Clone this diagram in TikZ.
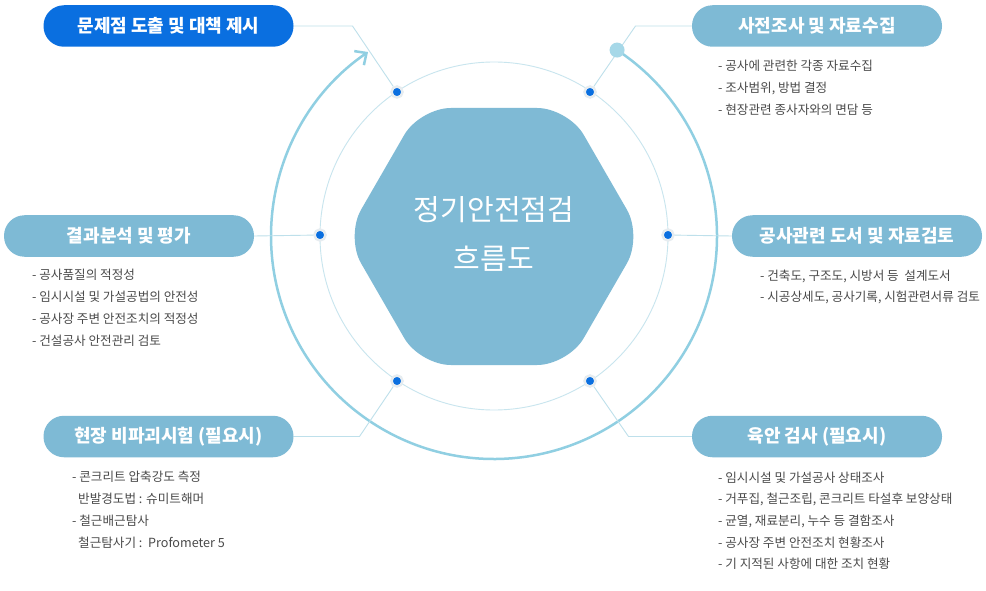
\documentclass[tikz,border=0pt]{standalone}
\usepackage{fontspec}
\setmainfont{Noto Sans CJK KR}
\usetikzlibrary{arrows.meta,calc}
\definecolor{boxc}{HTML}{7EBAD5}
\definecolor{bluebox}{HTML}{0A6FE0}
\definecolor{hexc}{HTML}{7FBAD5}
\definecolor{txt}{HTML}{4A4A4A}
\definecolor{innerc}{HTML}{C8E5EE}
\definecolor{connc}{HTML}{BEE0EB}
\definecolor{arcc}{HTML}{90CFE2}
\definecolor{lightdot}{HTML}{A6D8E8}
\definecolor{dotblue}{HTML}{0A6FE0}
\definecolor{ringc}{HTML}{E6ECF0}
\begin{document}
\begin{tikzpicture}[x=1pt,y=-1pt,
  titlebox/.style={rounded corners=20.5pt, fill=boxc, minimum width=250pt, minimum height=41.5pt, text=white, inner sep=0pt, font=\bfseries\fontsize{18}{18}\selectfont},
  dotnode/.style={circle, fill=dotblue, draw=ringc, line width=2.5pt, minimum size=11pt, inner sep=0pt},
  conn/.style={draw=connc, line width=0.9pt},
  bul/.style={anchor=west, inner sep=0pt, text=txt, font=\fontsize{12.6}{14}\selectfont}
]
\useasboundingbox (0,0) rectangle (986,591);
\fill[white] (0,0) rectangle (986,591);
\coordinate (c) at (494,236);
% inner circle
\draw[innerc, line width=0.9pt] (c) circle[radius=174];
% outer arc with arrow
\draw[arcc, line width=2.5pt, -{Straight Barb[length=9pt,width=17pt]}] ($(c)+(-56.5:223)$) arc[start angle=-56.5, end angle=235.6, radius=223];
% hexagon
\fill[hexc, rounded corners=31pt] (494,108) -- (568.2,108) -- (642.4,236.5) -- (568.2,365) -- (419.8,365) -- (345.6,236.5) -- (419.8,108) -- cycle;
\node[text=white, align=center, font=\fontsize{29}{49}\selectfont] (hub) at (494,234) {정기안전점검\\흐름도};
% title boxes
\node[titlebox, fill=bluebox] (tl) at (168.5,26) {문제점 도출 및 대책 제시};
\node[titlebox] (tr) at (817,26) {사전조사 및 자료수집};
\node[titlebox] (lf) at (129,236) {결과분석 및 평가};
\node[titlebox] (rt) at (857,236) {공사관련 도서 및 자료검토};
\node[titlebox] (bl) at (168.5,436.5) {현장 비파괴시험 (필요시)};
\node[titlebox] (br) at (817,436.5) {육안 검사 (필요시)};
% dots
\node[dotnode] (d1) at (397,92) {};
\node[dotnode] (d2) at (590,92) {};
\node[dotnode] (d3) at (320,235) {};
\node[dotnode] (d4) at (668,235) {};
\node[dotnode] (d5) at (397,381) {};
\node[dotnode] (d6) at (590,381) {};
% corner coordinates
\coordinate (k1) at (352.5,26);
\coordinate (k2) at (635.5,26);
\coordinate (k5) at (359.5,436.5);
\coordinate (k6) at (628.5,436.5);
% connectors
\draw[conn] (tl.east) -- (k1) -- (d1);
\draw[conn] (tr.west) -- (k2) -- (d2);
\draw[conn] (lf.east) -- (d3);
\draw[conn] (rt.west) -- (d4);
\draw[conn] (bl.east) -- (k5) -- (d5);
\draw[conn] (br.west) -- (k6) -- (d6);
\node[circle, fill=lightdot, minimum size=15pt, inner sep=0pt] (ld) at ($(c)+(-56.5:223)$) {};
% bullets
\node[bul] (tr1) at (718,66) {- 공사에 관련한 각종 자료수집};
\node[bul] (tr2) at (718,88) {- 조사범위, 방법 결정};
\node[bul] (tr3) at (718,110) {- 현장관련 종사자와의 면담 등};
\node[bul] (l1) at (32,275) {- 공사품질의 적정성};
\node[bul] (l2) at (32,297) {- 임시시설 및 가설공법의 안전성};
\node[bul] (l3) at (32,319) {- 공사장 주변 안전조치의 적정성};
\node[bul] (l4) at (32,341) {- 건설공사 안전관리 검토};
\node[bul] (r1) at (760,276) {- 건축도, 구조도, 시방서 등\ \ 설계도서};
\node[bul] (r2) at (760,297) {- 시공상세도, 공사기록, 시험관련서류 검토};
\node[bul] (b1) at (72,477) {- 콘크리트 압축강도 측정};
\node[bul] (b2) at (78,499) {반발경도법 : 슈미트해머};
\node[bul] (b3) at (72,521) {- 철근배근탐사};
\node[bul] (b4) at (78,543) {철근탐사기 :\ \ Profometer 5};
\node[bul] (e1) at (718,478) {- 임시시설 및 가설공사 상태조사};
\node[bul] (e2) at (718,499) {- 거푸집, 철근조립, 콘크리트 타설후 보양상태};
\node[bul] (e3) at (718,521) {- 균열, 재료분리, 누수 등 결함조사};
\node[bul] (e4) at (718,543) {- 공사장 주변 안전조치 현황조사};
\node[bul] (e5) at (718,564) {- 기 지적된 사항에 대한 조치 현황};
\end{tikzpicture}
\end{document}
